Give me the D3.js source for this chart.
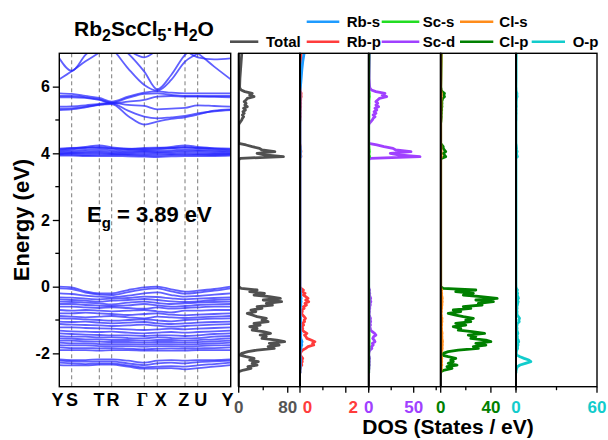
<!DOCTYPE html>
<html>
<head>
<meta charset="utf-8">
<script src="https://cdn.jsdelivr.net/npm/d3@7"></script>
<style>
  body { margin: 0; background: #fff; }
  svg { display: block; }
  text { font-family: "Liberation Sans", Arial, sans-serif; font-weight: bold; }
</style>
</head>
<body>
<svg id="chart" width="608" height="440"></svg>
<script>
// ---------- Band structure data ----------
// k-path positions of the samples: Y, S, (S-T), T, R, (R-Γ), Γ, X, (X-Z), Z, U, (U-Y), Y
const kSamples = [0, 0.124, 0.262, 0.400, 0.524, 0.687, 0.850, 0.980, 1.119, 1.257, 1.384, 1.549, 1.714];
const kTickPos = [0, 0.124, 0.400, 0.524, 0.850, 0.980, 1.257, 1.384, 1.714];
const kTickLabels = ["Y", "S", "T", "R", "Γ", "X", "Z", "U", "Y"];

const energyRange = [-3, 7];
const energyTicks = [-2, 0, 2, 4, 6];
const energyMinorTicks = [-1, 1, 3, 5];

// valence bands (eV)
const valenceBands = [
  [0.00,-0.02,-0.14,-0.20,-0.20,-0.10,-0.02,0.00,-0.08,-0.15,-0.12,-0.07,0.00],
  [-0.05,-0.07,-0.18,-0.24,-0.25,-0.16,-0.08,-0.05,-0.14,-0.21,-0.18,-0.12,-0.05],
  [-0.20,-0.22,-0.27,-0.30,-0.32,-0.27,-0.20,-0.17,-0.25,-0.30,-0.28,-0.24,-0.20],
  [-0.32,-0.33,-0.36,-0.38,-0.36,-0.34,-0.30,-0.31,-0.35,-0.38,-0.36,-0.34,-0.32],
  [-0.38,-0.40,-0.42,-0.45,-0.42,-0.40,-0.37,-0.40,-0.44,-0.46,-0.44,-0.40,-0.38],
  [-0.45,-0.46,-0.48,-0.50,-0.53,-0.48,-0.45,-0.49,-0.52,-0.50,-0.48,-0.46,-0.45],
  [-0.52,-0.52,-0.55,-0.57,-0.58,-0.56,-0.52,-0.56,-0.60,-0.58,-0.55,-0.53,-0.52],
  [-0.60,-0.60,-0.62,-0.64,-0.62,-0.64,-0.66,-0.62,-0.66,-0.64,-0.62,-0.60,-0.60],
  [-0.70,-0.72,-0.70,-0.72,-0.74,-0.72,-0.70,-0.74,-0.77,-0.72,-0.72,-0.70,-0.70],
  [-0.80,-0.80,-0.78,-0.80,-0.82,-0.85,-0.82,-0.80,-0.84,-0.86,-0.84,-0.82,-0.80],
  [-0.88,-0.90,-0.92,-0.90,-0.88,-0.92,-0.95,-0.90,-0.92,-0.94,-0.92,-0.90,-0.88],
  [-0.95,-0.96,-0.98,-1.00,-1.02,-1.00,-0.98,-1.01,-1.04,-1.00,-0.98,-0.96,-0.95],
  [-1.05,-1.06,-1.05,-1.08,-1.10,-1.08,-1.06,-1.10,-1.12,-1.10,-1.08,-1.06,-1.05],
  [-1.12,-1.14,-1.15,-1.16,-1.18,-1.16,-1.14,-1.17,-1.20,-1.18,-1.16,-1.14,-1.12],
  [-1.22,-1.22,-1.24,-1.25,-1.26,-1.28,-1.30,-1.28,-1.26,-1.28,-1.26,-1.24,-1.22],
  [-1.32,-1.34,-1.35,-1.36,-1.35,-1.38,-1.40,-1.38,-1.36,-1.38,-1.36,-1.34,-1.32],
  [-1.40,-1.42,-1.44,-1.45,-1.46,-1.46,-1.48,-1.46,-1.46,-1.48,-1.46,-1.42,-1.40],
  [-1.48,-1.50,-1.50,-1.52,-1.52,-1.54,-1.55,-1.52,-1.54,-1.55,-1.54,-1.50,-1.48],
  [-1.55,-1.56,-1.58,-1.58,-1.60,-1.60,-1.62,-1.60,-1.60,-1.62,-1.60,-1.58,-1.55],
  [-1.62,-1.62,-1.64,-1.65,-1.66,-1.66,-1.68,-1.66,-1.66,-1.68,-1.66,-1.64,-1.62],
  [-1.68,-1.70,-1.70,-1.72,-1.72,-1.72,-1.74,-1.72,-1.72,-1.74,-1.72,-1.70,-1.68],
  [-1.75,-1.76,-1.76,-1.78,-1.78,-1.78,-1.80,-1.78,-1.78,-1.80,-1.78,-1.76,-1.75],
  [-1.82,-1.84,-1.84,-1.85,-1.84,-1.86,-1.88,-1.86,-1.85,-1.86,-1.85,-1.84,-1.82],
  [-1.90,-1.90,-1.90,-1.92,-1.90,-1.90,-1.92,-1.92,-1.92,-1.92,-1.90,-1.90,-1.90],
  [-2.18,-2.20,-2.20,-2.18,-2.18,-2.22,-2.28,-2.22,-2.20,-2.22,-2.20,-2.20,-2.18],
  [-2.22,-2.24,-2.25,-2.24,-2.24,-2.30,-2.35,-2.30,-2.28,-2.30,-2.26,-2.24,-2.22],
  [-2.28,-2.30,-2.32,-2.30,-2.30,-2.36,-2.42,-2.40,-2.38,-2.40,-2.36,-2.32,-2.28],
  [-2.35,-2.36,-2.36,-2.34,-2.34,-2.40,-2.46,-2.45,-2.44,-2.48,-2.44,-2.40,-2.35]
];

// lowest conduction bands around 4 eV
const conductionBands = [
  [3.93,3.93,3.92,3.92,3.92,3.91,3.90,3.89,3.91,3.92,3.92,3.92,3.93],
  [3.96,3.96,3.95,3.96,3.96,3.95,3.93,3.93,3.95,3.96,3.96,3.95,3.96],
  [3.98,3.99,4.00,4.00,3.98,3.97,3.96,3.97,3.98,3.99,3.98,3.98,3.98],
  [4.00,4.01,4.02,4.03,4.01,4.00,4.00,4.01,4.02,4.04,4.03,4.01,4.00],
  [4.03,4.04,4.06,4.07,4.05,4.03,4.04,4.04,4.05,4.08,4.07,4.05,4.03],
  [4.06,4.08,4.10,4.12,4.09,4.06,4.07,4.08,4.09,4.12,4.10,4.08,4.06],
  [4.09,4.12,4.16,4.19,4.14,4.10,4.10,4.12,4.15,4.19,4.15,4.12,4.09],
  [4.12,4.15,4.19,4.24,4.18,4.14,4.13,4.15,4.19,4.24,4.19,4.15,4.12],
  [4.14,4.16,4.17,4.16,4.15,4.13,4.16,4.17,4.16,4.17,4.16,4.15,4.14]
];

// bands between 4.8 and 5.9 eV
const middleBands = [
  [5.80,5.78,5.72,5.66,5.55,5.70,5.82,5.86,5.82,5.80,5.80,5.80,5.80],
  [5.72,5.72,5.68,5.62,5.52,5.66,5.78,5.80,5.75,5.72,5.72,5.72,5.72],
  [5.68,5.68,5.66,5.60,5.50,5.55,5.60,5.70,5.72,5.70,5.70,5.69,5.68],
  [5.40,5.41,5.44,5.48,5.52,5.45,5.42,5.32,5.34,5.36,5.44,5.42,5.40],
  [5.30,5.32,5.38,5.45,5.50,5.28,5.10,5.05,5.08,5.12,5.20,5.26,5.30],
  [5.34,5.35,5.40,5.46,5.48,5.12,4.86,4.95,5.03,5.08,5.16,5.28,5.32]
];

// dispersive bands above 6 eV
const upperBands = [
  [6.22,6.46,6.76,7.02,7.30,7.50,7.50,7.50,7.50,7.50,7.50,7.50,7.50],
  [6.85,6.47,6.95,7.30,7.50,7.50,7.50,7.50,7.50,7.50,7.50,7.50,7.50],
  [7.50,7.50,7.50,7.40,7.15,6.55,6.05,5.88,6.20,6.75,7.00,7.40,7.50],
  [7.50,7.50,7.50,7.50,7.40,7.00,6.45,5.92,6.35,6.95,7.20,7.50,7.50],
  [7.50,7.50,7.50,7.50,7.40,7.10,6.88,7.10,7.40,7.50,7.50,7.50,7.50],
  [7.50,7.50,7.50,7.50,7.50,7.50,7.50,7.50,7.40,7.20,7.00,6.60,6.22],
  [7.50,7.50,7.50,7.50,7.50,7.50,7.50,7.50,7.40,7.10,6.88,6.82,6.85]
];

// ---------- Density of states data ----------
const dosEnergy = [
  -2.60,-2.55,-2.50,-2.45,-2.40,-2.35,-2.30,-2.25,-2.20,-2.15,
  -2.10,-2.05,-2.00,-1.95,-1.90,-1.85,-1.80,-1.75,-1.70,-1.65,
  -1.60,-1.55,-1.50,-1.45,-1.40,-1.35,-1.30,-1.25,-1.20,-1.15,
  -1.10,-1.05,-1.00,-0.95,-0.90,-0.85,-0.80,-0.75,-0.70,-0.65,
  -0.60,-0.55,-0.50,-0.45,-0.40,-0.35,-0.30,-0.25,-0.20,-0.15,
  -0.10,-0.05,0.00,0.05,
  3.80,3.85,3.90,3.95,4.00,4.05,4.10,4.15,4.20,4.25,4.30,
  4.85,4.90,4.95,5.00,5.05,5.10,5.15,5.20,5.25,5.30,
  5.35,5.40,5.45,5.50,5.55,5.60,5.65,5.70,5.75,5.80,
  5.85,5.90,5.95,6.00,
  6.25,6.50,6.75,7.00
];

const dosTotal = [
  0,0,8,20,15,30,22,32,18,25, 12,2,5,15,30,58,48,66,50,75,
  62,38,45,35,52,40,22,30,18,35, 25,48,38,45,30,22,14,28,20,38,
  30,55,45,70,40,68,50,25,42,18, 30,4,0,0,
  0,3,73,42,30,59,38,34,22,12,0,
  0,1,3,5,6,8,6,9,7,11, 8,14,10,12,9,12,14,25,18,22, 10,4,2,1.5,
  2,3,4,5
];
const dosRbS = [
  0,0,0,0.01,0.01,0.02,0.01,0.02,0.02,0.02, 0.01,0,0,0.01,0.02,0.04,0.05,0.08,0.06,0.09,
  0.06,0.03,0.03,0.02,0.04,0.02,0.01,0.02,0.01,0.02, 0.01,0.03,0.02,0.03,0.02,0.01,0.01,0.01,0.01,0.02,
  0.02,0.04,0.03,0.05,0.03,0.05,0.03,0.02,0.03,0.01, 0.02,0.01,0,0,
  0,0,0.02,0.01,0.01,0.02,0.01,0.01,0.01,0,0,
  0,0,0,0,0,0,0,0,0,0, 0,0,0,0,0,0,0,0,0,0, 0,0.005,0.01,0.02,
  0.05,0.08,0.12,0.18
];
const dosRbP = [
  0,0,0,0.02,0.03,0.08,0.06,0.10,0.08,0.12, 0.06,0.02,0.02,0.05,0.12,0.25,0.35,0.60,0.55,0.65,
  0.48,0.30,0.26,0.20,0.30,0.18,0.10,0.12,0.08,0.16, 0.10,0.20,0.18,0.24,0.18,0.12,0.06,0.10,0.08,0.18,
  0.15,0.28,0.22,0.38,0.25,0.35,0.25,0.15,0.22,0.10, 0.15,0.05,0,0,
  0,0,0.04,0.03,0.02,0.04,0.03,0.02,0.02,0.01,0,
  0,0,0,0.01,0.01,0.02,0.01,0.02,0.01,0.02, 0.02,0.03,0.02,0.03,0.02,0.03,0.03,0.05,0.04,0.05, 0.02,0.01,0.01,0.01,
  0.02,0.03,0.04,0.05
];
const dosScS = [
  0,0,0,0.1,0.1,0.2,0.1,0.2,0.1,0.2, 0.1,0,0,0.1,0.2,0.4,0.3,0.5,0.4,0.6,
  0.5,0.3,0.4,0.5,0.4,0.3,0.2,0.2,0.1,0.2, 0.1,0.2,0.2,0.2,0.1,0.1,0.1,0.1,0.1,0.1,
  0.1,0.2,0.2,0.3,0.2,0.3,0.2,0.1,0.2,0.1, 0.1,0,0,0,
  0,0,1.0,0.6,0.4,0.8,0.5,0.4,0.3,0.2,0,
  0,0,0.1,0.2,0.2,0.3,0.2,0.3,0.2,0.3, 0.3,0.4,0.3,0.4,0.3,0.4,0.5,0.8,0.6,0.7, 0.3,0.1,0.05,0.05,
  0.1,0.2,0.3,0.4
];
const dosScD = [
  0,0,0.1,0.4,0.3,0.8,0.5,0.8,0.6,1.0, 0.5,0.1,0.2,0.5,1.5,3.5,3.0,5.0,4.0,7.0,
  6.0,4.5,5.5,8.0,6.5,4.0,2.0,1.8,1.0,2.0, 1.2,2.2,1.6,2.0,1.2,0.8,0.5,0.9,0.6,1.2,
  1.0,1.8,1.5,2.4,1.4,2.2,1.5,0.8,1.2,0.6, 1.0,0.2,0,0,
  0,2,57,33,24,47,30,27,17,9,0,
  0,0.8,2.5,4,5,7,5,8,6,9, 7,11,8,10,8,10,12,20,15,18, 8,3,1.5,1,
  0.5,0.6,0.8,1.0
];
const dosClS = [
  0,0,0.2,0.6,0.4,0.9,0.5,0.8,0.6,0.9, 0.5,0.1,0.2,0.5,0.9,1.2,1.0,1.3,1.1,1.4,
  1.2,0.9,1.0,0.8,1.1,0.9,0.6,0.7,0.5,0.8, 0.6,1.0,0.8,1.0,0.7,0.5,0.3,0.6,0.4,0.8,
  0.7,1.0,0.9,1.2,0.9,1.2,1.0,0.6,0.8,0.5, 0.7,0.1,0,0,
  0,0,0.5,0.3,0.2,0.4,0.3,0.2,0.2,0.1,0,
  0,0,0,0.1,0.1,0.1,0.1,0.1,0.1,0.2, 0.1,0.2,0.2,0.2,0.2,0.2,0.3,0.5,0.4,0.5, 0.2,0.1,0,0,
  0.1,0.1,0.2,0.2
];
const dosClP = [
  0,0,3,9,5,13,6,10,8,12, 6,1,2,6,14,30,26,36,28,40,
  36,24,28,22,35,25,14,16,10,20, 12,24,20,26,18,12,6,16,10,24,
  18,33,30,42,28,45,32,18,26,12, 28,2,0,0,
  0,0.5,4,3,2,4,3,2,2,1,0,
  0,0,0.2,0.3,0.4,0.5,0.4,0.6,0.5,0.8, 0.6,1.0,0.8,1.0,0.8,1.2,1.6,3.0,2.4,3.0, 1.2,0.4,0.2,0.1,
  0.2,0.3,0.4,0.5
];
const dosOP = [
  0,0,0.2,0.5,1.0,3.0,7.0,11.0,9.5,6.0, 3.0,0.6,0.2,0.3,0.6,1.2,1.0,1.5,1.2,2.0,
  1.6,0.9,1.0,0.8,1.4,1.0,0.6,0.8,0.5,0.8, 1.0,2.4,2.0,2.6,1.8,1.0,0.6,0.8,0.5,0.8,
  0.6,1.0,1.2,1.6,1.0,1.8,1.4,0.8,1.2,0.6, 1.0,0.3,0,0,
  0,0,1.0,0.6,0.4,0.8,0.5,0.4,0.3,0.2,0,
  0,0,0,0.1,0.1,0.1,0.1,0.2,0.1,0.2, 0.1,0.3,0.2,0.2,0.2,0.3,0.4,0.8,0.6,0.7, 0.3,0.1,0.1,0,
  0.1,0.1,0.1,0.2
];

// DOS axis ranges and ticks per panel
const dosMax = [100, 3, 80, 60, 60];
const dosTickValues = [[0, 40, 80], [0, 1, 2, 3], [0, 25, 50, 75], [0, 20, 40, 60], [0, 30, 60]];
const dosTickLabels = [[0, 80], [0, 2], [0, 50], [0, 40], [0, 60]];

// ---------- Drawing ----------
const svg = d3.select("#chart");
const defs = svg.append("defs");

const band = { x0: 59.3, x1: 230.7, y0: 53.3, y1: 386.7 };
const ey = d3.scaleLinear().domain(energyRange).range([band.y1, band.y0]);
const kx = d3.scaleLinear().domain([kSamples[0], kSamples[kSamples.length - 1]]).range([band.x0, band.x1]);

defs.append("clipPath").attr("id", "bandClip").append("rect")
  .attr("x", band.x0).attr("y", band.y0)
  .attr("width", band.x1 - band.x0).attr("height", band.y1 - band.y0);

// dashed high-symmetry guides
svg.append("g").selectAll("line").data(kTickPos.slice(1, -1)).join("line")
  .attr("x1", d => kx(d)).attr("x2", d => kx(d))
  .attr("y1", band.y0).attr("y2", band.y1)
  .attr("stroke", "#7a7a7a").attr("stroke-width", 1).attr("stroke-dasharray", "4,3");

// bands
const bandLine = d3.line().x((d, i) => kx(kSamples[i])).y(d => ey(d)).curve(d3.curveMonotoneX);
const allBands = [...valenceBands, ...conductionBands, ...middleBands, ...upperBands];
svg.append("g").attr("clip-path", "url(#bandClip)")
  .selectAll("path").data(allBands).join("path")
  .attr("d", bandLine).attr("fill", "none")
  .attr("stroke", "#2222ff").attr("stroke-width", 1.8).attr("stroke-opacity", 0.72);

svg.append("rect")
  .attr("x", band.x0).attr("y", band.y0)
  .attr("width", band.x1 - band.x0).attr("height", band.y1 - band.y0)
  .attr("fill", "none").attr("stroke", "#000").attr("stroke-width", 1.4);

// energy axis
const yAxis = svg.append("g").attr("transform", `translate(${band.x0},0)`)
  .call(d3.axisLeft(ey).tickValues(energyTicks).tickSize(6.5).tickPadding(3).tickFormat(d => String(d)));
yAxis.select(".domain").remove();
yAxis.selectAll(".tick line").attr("stroke", "#000").attr("stroke-width", 1.3);
yAxis.selectAll(".tick text").attr("fill", "#000").attr("font-size", 16)
  .attr("font-family", "Liberation Sans, Arial, sans-serif").attr("font-weight", "bold");
svg.append("g").selectAll("line").data(energyMinorTicks).join("line")
  .attr("x1", band.x0 - 4).attr("x2", band.x0)
  .attr("y1", d => ey(d)).attr("y2", d => ey(d))
  .attr("stroke", "#000").attr("stroke-width", 1.3);

// k-point labels (small nudges keep neighbouring letters apart)
const kLabelNudge = [-1.8, 0.3, -0.3, 1.3, -1.8, 3.5, -1.2, 3.1, -3.2];
svg.append("g").selectAll("text").data(kTickLabels).join("text")
  .attr("x", (d, i) => kx(kTickPos[i]) + kLabelNudge[i]).attr("y", 406)
  .attr("text-anchor", "middle").attr("font-size", 18)
  .style("font-family", d => d === "Γ" ? "'Liberation Serif', serif" : null)
  .text(d => d);

// axis title
svg.append("text").attr("transform", "translate(29,220) rotate(-90)")
  .attr("text-anchor", "middle").attr("font-size", 22).text("Energy (eV)");

// compound title
const title = svg.append("text").attr("x", 74).attr("y", 36).attr("font-size", 21);
title.append("tspan").text("Rb");
title.append("tspan").attr("font-size", 16).attr("dy", 5).text("2");
title.append("tspan").attr("dy", -5).text("ScCl");
title.append("tspan").attr("font-size", 16).attr("dy", 5).text("5");
title.append("tspan").attr("dy", -5).text("·H");
title.append("tspan").attr("font-size", 16).attr("dy", 5).text("2");
title.append("tspan").attr("dy", -5).text("O");

// band gap annotation
const gap = svg.append("text").attr("x", 87).attr("y", 222).attr("font-size", 22);
gap.append("tspan").text("E");
gap.append("tspan").attr("font-size", 15).attr("dy", 6).text("g");
gap.append("tspan").attr("dy", -6).text(" = 3.89 eV");

// DOS panels
const dosColors = {
  total: "#505050", rbs: "#1e9bff", rbp: "#ff3c3c", scs: "#22dd22",
  scd: "#a040ff", cls: "#ff8c1a", clp: "#008000", op: "#12cccc"
};
const panels = [
  { x0: 238.7, x1: 300, label: "#555555", shift: 0, series: [[dosTotal, dosColors.total]] },
  { x0: 300, x1: 368.7, label: "#ff3c3c", shift: 7.5, series: [[dosRbP, dosColors.rbp], [dosRbS, dosColors.rbs]] },
  { x0: 368.7, x1: 440.7, label: "#a040ff", shift: 0, series: [[dosScD, dosColors.scd], [dosScS, dosColors.scs]] },
  { x0: 440.7, x1: 516, label: "#008000", shift: 0, series: [[dosClP, dosColors.clp], [dosClS, dosColors.cls]] },
  { x0: 516, x1: 597, label: "#12cccc", shift: 0, series: [[dosOP, dosColors.op]] }
];

panels.forEach((p, pi) => {
  const x = d3.scaleLinear().domain([0, dosMax[pi]]).range([p.x0, p.x1]);
  const clipId = "dosClip" + pi;
  defs.append("clipPath").attr("id", clipId).append("rect")
    .attr("x", p.x0).attr("y", band.y0).attr("width", p.x1 - p.x0).attr("height", band.y1 - band.y0);
  const g = svg.append("g");
  const line = d3.line().x(d => x(d[1])).y(d => ey(d[0]));
  const curves = g.append("g").attr("clip-path", `url(#${clipId})`);
  p.series.forEach(([vals, color]) => {
    curves.append("path")
      .attr("d", line(dosEnergy.map((e, i) => [e, vals[i]])))
      .attr("fill", "none").attr("stroke", color)
      .attr("stroke-width", 2.8).attr("stroke-linejoin", "round");
  });
  g.append("rect").attr("x", p.x0).attr("y", band.y0)
    .attr("width", p.x1 - p.x0).attr("height", band.y1 - band.y0)
    .attr("fill", "none").attr("stroke", "#000").attr("stroke-width", 1.4);
  g.append("line").attr("x1", p.x0).attr("x2", p.x0).attr("y1", band.y0).attr("y2", band.y1)
    .attr("stroke", "#000").attr("stroke-width", 2);
  // bottom ticks
  g.selectAll("line.tk").data(dosTickValues[pi]).join("line").attr("class", "tk")
    .attr("x1", d => x(d)).attr("x2", d => x(d))
    .attr("y1", band.y1)
    .attr("y2", d => band.y1 + (dosTickLabels[pi].includes(d) ? 6 : 3.5))
    .attr("stroke", "#000").attr("stroke-width", 1.3);
  g.selectAll("text.tl").data(dosTickLabels[pi]).join("text").attr("class", "tl")
    .attr("x", d => x(d) + p.shift).attr("y", 412.5)
    .attr("text-anchor", "middle").attr("font-size", 17).attr("fill", p.label)
    .text(d => d);
});

svg.append("text").attr("x", 448).attr("y", 434).attr("text-anchor", "middle")
  .attr("font-size", 21).text("DOS (States / eV)");

// legend
const legendItems = [
  { name: "Rb-s", color: dosColors.rbs, y: 21.7, lx0: 306.7, lx1: 339.3, tx: 346.7 },
  { name: "Sc-s", color: dosColors.scs, y: 21.7, lx0: 381.7, lx1: 419.3, tx: 422.7 },
  { name: "Cl-s", color: dosColors.cls, y: 21.7, lx0: 460, lx1: 493.3, tx: 499.3 },
  { name: "Total", color: dosColors.total, y: 41.7, lx0: 230, lx1: 258.3, tx: 266 },
  { name: "Rb-p", color: dosColors.rbp, y: 41.7, lx0: 306.7, lx1: 339.3, tx: 346.7 },
  { name: "Sc-d", color: dosColors.scd, y: 41.7, lx0: 381.7, lx1: 419.3, tx: 422.7 },
  { name: "Cl-p", color: dosColors.clp, y: 41.7, lx0: 460, lx1: 493.3, tx: 499.3 },
  { name: "O-p", color: dosColors.op, y: 41.7, lx0: 531.7, lx1: 565, tx: 572.7 }
];
const lg = svg.append("g");
legendItems.forEach(it => {
  lg.append("line").attr("x1", it.lx0).attr("x2", it.lx1).attr("y1", it.y).attr("y2", it.y)
    .attr("stroke", it.color).attr("stroke-width", 2.6);
  lg.append("text").attr("x", it.tx).attr("y", it.y + 5.3).attr("font-size", 15).text(it.name);
});
</script>
</body>
</html>
